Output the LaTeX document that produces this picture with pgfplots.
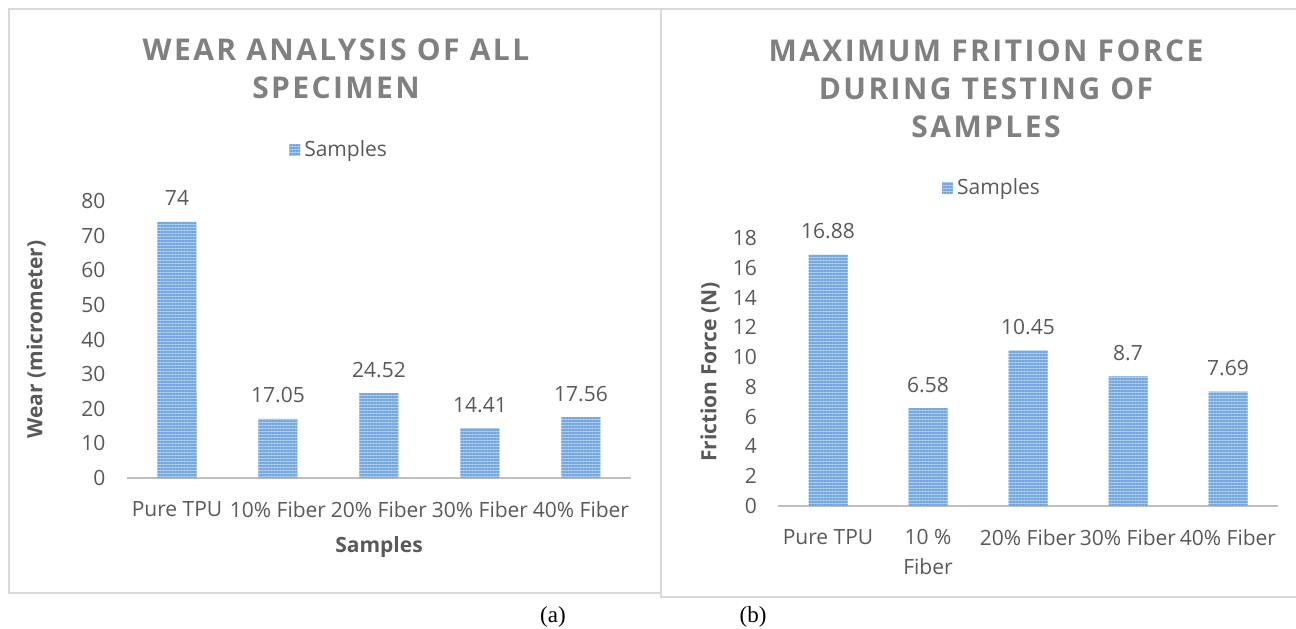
\documentclass[border=0pt]{standalone}
\usepackage{fontspec}
\setmainfont{Open Sans}
\newfontfamily\titlefont[LetterSpace=8]{Open Sans}
\newfontfamily\seriffont{Liberation Serif}
\usepackage{pgfplots}
\pgfplotsset{compat=1.18}
\usetikzlibrary{patterns.meta}
\definecolor{txt}{HTML}{595959}
\definecolor{ttl}{HTML}{808080}
\definecolor{barfill}{HTML}{A9CBEE}
\definecolor{barline}{HTML}{74A6DC}
\definecolor{axgray}{HTML}{BFBFBF}
\definecolor{framec}{HTML}{D9D9D9}
\pgfplotsset{
  mybar/.style={
    scale only axis, ybar, bar width=19.5pt,
    axis line style={draw=none}, major tick length=0pt,
    /pgf/number format/assume math mode=true,
    tick label style={font=\fontsize{10.5}{15}\selectfont, text=txt},
    xticklabel style={anchor=north, yshift=-8pt, align=center},
    yticklabel style={anchor=east, xshift=-7pt},
    label style={font=\bfseries\fontsize{10.5}{13}\selectfont, text=txt},
    legend style={draw=none, fill=none, anchor=center, font=\fontsize{10.5}{13}\selectfont, text=txt},
    legend image code/.code={\fill[##1] (0pt,-2.75pt) rectangle (5.5pt,2.75pt);},
    nodes near coords, point meta=explicit symbolic,
    every node near coord/.append style={font=\fontsize{10.5}{13}\selectfont, text=txt, anchor=base, yshift=8pt},
    clip=false,
  },
  barsty/.style={fill=barfill, draw=none, postaction={pattern={Lines[angle=0,distance=1.5pt,line width=0.75pt]}, pattern color=barline}},
}
\begin{document}
\begin{tikzpicture}[x=0.5pt,y=0.5pt]
\useasboundingbox (0,0) rectangle (1296,628);
\draw[framec, line width=1pt] (9,35) rectangle (661,619);
\draw[framec, line width=1pt] (1296,619) -- (661,619) -- (661,31) -- (1296,31);

\node[font=\titlefont\bfseries\fontsize{15}{19}\selectfont, text=ttl, align=center] at (336,559) {WEAR ANALYSIS OF ALL\\SPECIMEN};
\node[font=\titlefont\bfseries\fontsize{15}{19}\selectfont, text=ttl, align=center] at (986,539.5) {MAXIMUM FRITION FORCE\\DURING TESTING OF\\SAMPLES};

\begin{axis}[mybar, at={(63.25pt,75pt)}, anchor=south west,
  width=252.5pt, height=138.5pt,
  xmin=-0.5, xmax=4.5, ymin=0, ymax=80, ytick={0,10,...,80},
  xtick={0,1,2,3,4},
  xticklabels={Pure TPU,10\% Fiber,20\% Fiber,30\% Fiber,40\% Fiber},
  xlabel={Samples}, ylabel={Wear (micrometer)},
  xlabel style={at={(axis description cs:0.5,-0.249)}, anchor=center},
  ylabel style={at={(axis description cs:-0.179,0.5)}, anchor=center, rotate=0},
  legend style={at={(0.423,1.184)}},
]
\draw[axgray, line width=1.3pt] (rel axis cs:0,0) -- (rel axis cs:1,0);
\addplot[barsty] coordinates {(0,74) [74] (1,17.05) [17.05] (2,24.52) [24.52] (3,14.41) [14.41] (4,17.56) [17.56]};
\addlegendentry{Samples}
\end{axis}

\begin{axis}[mybar, at={(389pt,61pt)}, anchor=south west,
  width=250pt, height=134pt,
  xmin=-0.5, xmax=4.5, ymin=0, ymax=18, ytick={0,2,...,18},
  xtick={0,1,2,3,4},
  xticklabels={Pure TPU,{10 \%\\Fiber},20\% Fiber,30\% Fiber,40\% Fiber},
  ylabel={Friction Force (N)},
  ylabel style={at={(axis description cs:-0.136,0.5)}, anchor=center, rotate=0},
  legend style={at={(0.43,1.187)}},
]
\draw[axgray, line width=1.3pt] (rel axis cs:0,0) -- (rel axis cs:1,0);
\addplot[barsty] coordinates {(0,16.88) [16.88] (1,6.58) [6.58] (2,10.45) [10.45] (3,8.7) [8.7] (4,7.69) [7.69]};
\addlegendentry{Samples}
\end{axis}

\node[font=\seriffont\fontsize{11.5}{13}\selectfont] at (553,11) {(a)};
\node[font=\seriffont\fontsize{11.5}{13}\selectfont] at (753,11) {(b)};
\end{tikzpicture}
\end{document}
